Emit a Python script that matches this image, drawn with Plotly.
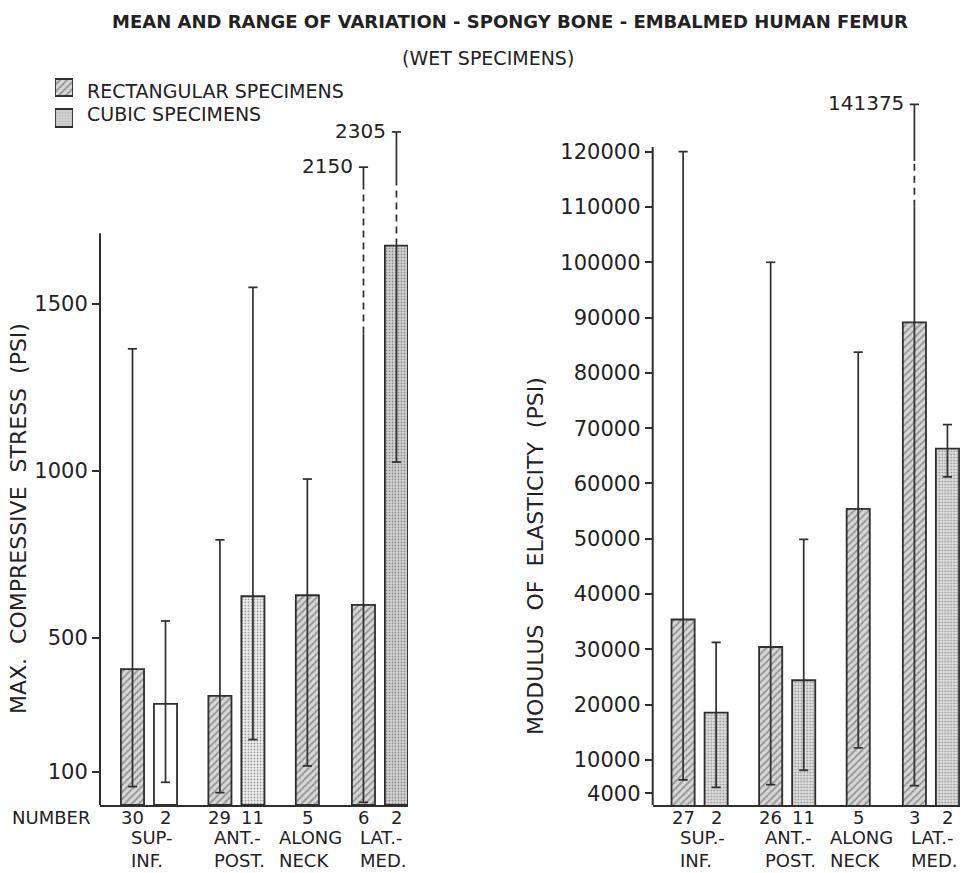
import plotly.graph_objects as go

# ---------------- data ----------------
bar_kind = ["R", "C", "R", "C", "R", "R", "C"]          # R = rectangular, C = cubic
bar_slot = [0, 1, 2.65, 3.65, 5.3, 7, 8]                  # category slot of each bar
bar_group = [0, 0, 1, 1, 2, 3, 3]

groups_left = ["SUP-<br>INF.", "ANT.-<br>POST.", "ALONG<br>NECK", "LAT.-<br>MED."]
groups_right = ["SUP.-<br>INF.", "ANT.-<br>POST.", "ALONG<br>NECK", "LAT.-<br>MED."]

stress_mean = [407, 303, 327, 625, 628, 599, 1675]
stress_low = [55, 68, 37, 196, 117, 8, 1027]
stress_high = [1366, 551, 794, 1550, 976, 2150, 2305]
stress_n = [30, 2, 29, 11, 5, 6, 2]
stress_ticks = [100, 500, 1000, 1500]

modulus_mean = [35400, 18570, 30430, 24420, 55400, 89150, 66300]
modulus_low = [6400, 5040, 5540, 8140, 12200, 5360, 61200]
modulus_high = [120000, 31250, 100000, 49900, 83750, 141375, 70650]
modulus_n = [27, 2, 26, 11, 5, 3, 2]
modulus_ticks = [4000, 10000, 20000, 30000, 40000, 50000, 60000, 70000,
                 80000, 90000, 100000, 110000, 120000]

title = "MEAN AND RANGE OF VARIATION - SPONGY BONE - EMBALMED HUMAN FEMUR"
subtitle = "(WET SPECIMENS)"
legend_names = {"R": "RECTANGULAR SPECIMENS", "C": "CUBIC SPECIMENS"}

# ---------------- style ----------------
W, H = 962, 873
FONT = "DejaVu Sans"
INK = "#222222"
LINE = "#2e2e2e"

rect_style = dict(shape="/", bgcolor="#d8d8d8", fgcolor="#555555", size=5, solidity=0.4)
cubic_legend = dict(shape=".", bgcolor="#d4d4d4", fgcolor="#a0a0a0", size=3, solidity=0.3)
cubic_bg_left = ["#ffffff", "#f1f1f1", "#d4d4d4"]
cubic_fg_left = ["#ffffff", "#dadada", "#a8a8a8"]
cubic_shape_left = ["", ".", "."]
cubic_bg_right = ["#e2e2e2", "#e2e2e2", "#e2e2e2"]
cubic_fg_right = ["#b0b0b0", "#b0b0b0", "#b0b0b0"]


def gap(n):
    return "\u00a0" * (n - 1) + " "


panels = [
    dict(name="left", xa="x", ya="y", xaxis="xaxis", yaxis="yaxis",
         xdom=[100 / W, 408 / W], xr=[-0.985, 8.35],
         ydom=[1 - 805 / H, 1 - 100 / H], yr=[0, 2111], axis_top=1712,
         brk_from=1400, brk_k=0.68, dash={5: (0.62, 0.95), 6: (0.0, 0.55)},
         mean=stress_mean, low=stress_low, high=stress_high, n=stress_n,
         ticks=stress_ticks, groups=groups_left,
         cubic_bg=cubic_bg_left, cubic_fg=cubic_fg_left, cubic_shape=cubic_shape_left,
         ytitle=gap(2).join(["MAX.", "COMPRESSIVE", "STRESS", "(PSI)"]),
         ytitle_x=18, ytitle_y=519),
    dict(name="right", xa="x2", ya="y2", xaxis="xaxis2", yaxis="yaxis2",
         xdom=[652.7 / W, 960 / W], xr=[-0.92, 8.38],
         ydom=[1 - 805 / H, 1 - 90 / H], yr=[1860, 131155], axis_top=120850,
         brk_from=120000, brk_k=0.4, dash={5: (0.53, 0.74)},
         mean=modulus_mean, low=modulus_low, high=modulus_high, n=modulus_n,
         ticks=modulus_ticks, groups=groups_right,
         cubic_bg=cubic_bg_right, cubic_fg=cubic_fg_right, cubic_shape=[".", ".", "."],
         ytitle=gap(2).join(["MODULUS", "OF", "ELASTICITY", "(PSI)"]),
         ytitle_x=535, ytitle_y=556),
]

fig = go.Figure()
annotations = []
shapes = []
layout_axes = {}

CAP = 0.14  # half width of whisker caps in slot units

for p in panels:
    def shown(v, p=p):
        # values beyond the drawn axis are shown on a compressed (broken) scale
        if v <= p["axis_top"]:
            return v
        return p["brk_from"] + (v - p["brk_from"]) * p["brk_k"]

    idx_r = [i for i, k in enumerate(bar_kind) if k == "R"]
    idx_c = [i for i, k in enumerate(bar_kind) if k == "C"]

    fig.add_trace(go.Bar(
        x=[bar_slot[i] for i in idx_r], y=[p["mean"][i] for i in idx_r],
        width=0.7, xaxis=p["xa"], yaxis=p["ya"], showlegend=False,
        marker=dict(color=rect_style["bgcolor"], line=dict(color=LINE, width=1.8),
                    pattern=rect_style),
        hoverinfo="skip"))
    fig.add_trace(go.Bar(
        x=[bar_slot[i] for i in idx_c], y=[p["mean"][i] for i in idx_c],
        width=0.7, xaxis=p["xa"], yaxis=p["ya"], showlegend=False,
        marker=dict(color=p["cubic_bg"], line=dict(color=LINE, width=1.8),
                    pattern=dict(shape=p["cubic_shape"], bgcolor=p["cubic_bg"],
                                 fgcolor=p["cubic_fg"], size=3, solidity=0.3)),
        hoverinfo="skip"))

    # whiskers (range of variation)
    sx, sy, dx, dy = [], [], [], []
    for i in range(len(bar_slot)):
        x = bar_slot[i]
        lo = p["low"][i]
        hi = shown(p["high"][i])
        m = p["mean"][i]
        if i in p["dash"]:
            f0, f1 = p["dash"][i]
            ya = m + f0 * (hi - m)
            yb = m + f1 * (hi - m)
            sx += [x, x, None, x, x, None]
            sy += [lo, ya, None, yb, hi, None]
            dx += [x, x, None]
            dy += [ya, yb, None]
        else:
            sx += [x, x, None]
            sy += [lo, hi, None]
        sx += [x - CAP, x + CAP, None, x - CAP, x + CAP, None]
        sy += [lo, lo, None, hi, hi, None]
        if p["high"][i] > p["axis_top"]:
            annotations.append(dict(
                x=x, y=hi, xref=p["xa"], yref=p["ya"], text=f"{p['high'][i]}",
                showarrow=False, xanchor="right", yanchor="middle", xshift=-8, yshift=1,
                font=dict(family=FONT, size=20, color=INK)))
    fig.add_trace(go.Scatter(x=sx, y=sy, mode="lines", xaxis=p["xa"], yaxis=p["ya"],
                             line=dict(color=LINE, width=1.7), showlegend=False,
                             hoverinfo="skip"))
    if dx:
        fig.add_trace(go.Scatter(x=dx, y=dy, mode="lines", xaxis=p["xa"], yaxis=p["ya"],
                                 line=dict(color=LINE, width=1.7, dash="7px,5px"),
                                 showlegend=False, hoverinfo="skip"))

    # axes
    xkey, ykey = p["xaxis"], p["yaxis"]
    layout_axes[xkey] = dict(domain=p["xdom"], range=p["xr"], anchor=p["ya"],
                             showline=True, linecolor=LINE, linewidth=2,
                             showticklabels=False, ticks="", showgrid=False,
                             zeroline=False, fixedrange=True)
    layout_axes[ykey] = dict(domain=p["ydom"], range=p["yr"], anchor=p["xa"],
                             showline=False, showgrid=False, zeroline=False,
                             ticks="outside", ticklen=7, tickwidth=1.6, tickcolor=LINE,
                             tickvals=p["ticks"], ticktext=[str(t) for t in p["ticks"]],
                             tickfont=dict(family=FONT, size=21, color=INK),
                             fixedrange=True)
    shapes.append(dict(type="line", xref=f"{p['xa']} domain", yref=p["ya"],
                       x0=0, x1=0, y0=p["yr"][0], y1=p["axis_top"],
                       line=dict(color=LINE, width=2)))

    # counts under the bars
    for i in range(len(bar_slot)):
        annotations.append(dict(
            x=bar_slot[i], y=1 - 817 / H, xref=p["xa"], yref="paper",
            text=str(p["n"][i]), showarrow=False, xanchor="center", yanchor="middle",
            font=dict(family=FONT, size=18, color=INK)))
    # group labels
    for g, lab in enumerate(p["groups"]):
        members = [bar_slot[i] for i in range(len(bar_slot)) if bar_group[i] == g]
        cx = sum(members) / len(members) + 0.1
        annotations.append(dict(
            x=cx, y=1 - 849 / H, xref=p["xa"], yref="paper", text=lab,
            showarrow=False, xanchor="center", yanchor="middle", align="left",
            font=dict(family=FONT, size=18, color=INK)))
    # y title
    annotations.append(dict(
        x=p["ytitle_x"] / W, y=1 - p["ytitle_y"] / H, xref="paper", yref="paper",
        text=p["ytitle"], textangle=-90, showarrow=False,
        xanchor="center", yanchor="middle",
        font=dict(family=FONT, size=22, color=INK)))

# ---------------- legend (drawn as small swatch bars on their own axis) ----------------
layout_axes["xaxis3"] = dict(domain=[55 / W, 73 / W], range=[0, 1], anchor="y3",
                             visible=False, fixedrange=True)
layout_axes["yaxis3"] = dict(domain=[1 - 128 / H, 1 - 78 / H], range=[0, 50], anchor="x3",
                             visible=False, fixedrange=True)
fig.add_trace(go.Bar(x=[0.5], y=[17], base=[32], width=[1], xaxis="x3", yaxis="y3",
                     showlegend=False, hoverinfo="skip",
                     marker=dict(color=rect_style["bgcolor"], pattern=rect_style,
                                 line=dict(color=LINE, width=1.8))))
fig.add_trace(go.Bar(x=[0.5], y=[18], base=[1], width=[1], xaxis="x3", yaxis="y3",
                     showlegend=False, hoverinfo="skip",
                     marker=dict(color=cubic_legend["bgcolor"], pattern=cubic_legend,
                                 line=dict(color=LINE, width=1.8))))
annotations.append(dict(x=85 / W, y=1 - 91 / H, xref="paper", yref="paper",
                        text=legend_names["R"], showarrow=False, xanchor="left",
                        yanchor="middle", font=dict(family=FONT, size=19, color=INK)))
annotations.append(dict(x=85 / W, y=1 - 114 / H, xref="paper", yref="paper",
                        text=legend_names["C"], showarrow=False, xanchor="left",
                        yanchor="middle", font=dict(family=FONT, size=19, color=INK)))

annotations.append(dict(x=10 / W, y=1 - 817 / H, xref="paper", yref="paper",
                        text="NUMBER", showarrow=False, xanchor="left", yanchor="middle",
                        font=dict(family=FONT, size=18, color=INK)))
annotations.append(dict(x=510 / W, y=1 - 21 / H, xref="paper", yref="paper",
                        text=f"<b>{title}</b>", showarrow=False, xanchor="center",
                        yanchor="middle", font=dict(family=FONT, size=18, color=INK)))
annotations.append(dict(x=488 / W, y=1 - 58 / H, xref="paper", yref="paper",
                        text=subtitle, showarrow=False, xanchor="center",
                        yanchor="middle", font=dict(family=FONT, size=19, color=INK)))

fig.update_layout(
    width=W, height=H, margin=dict(l=0, r=0, t=0, b=0),
    paper_bgcolor="white", plot_bgcolor="white",
    barmode="overlay", annotations=annotations, shapes=shapes,
    showlegend=False,
    **layout_axes,
)

fig.write_html("out.html")
